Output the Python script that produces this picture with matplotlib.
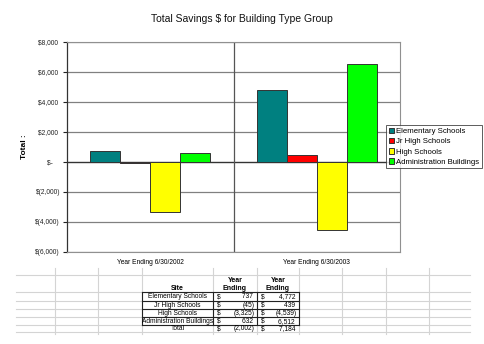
import matplotlib
matplotlib.use("Agg")
import matplotlib.pyplot as plt
import numpy as np
from matplotlib.ticker import FuncFormatter

plt.rcParams['font.family'] = ['Liberation Sans', 'DejaVu Sans']

# data
years = ["Year Ending 6/30/2002", "Year Ending 6/30/2003"]
sites = ["Elementary Schools", "Jr High Schools", "High Schools", "Administration Buildings"]
savings_2002 = [737, -45, -3325, 632]
savings_2003 = [4772, 439, -4539, 6512]
totals = [-2002, 7184]
colors = ["#008080", "#FF0000", "#FFFF00", "#00FF00"]

W, H = 485, 344
fig = plt.figure(figsize=(W / 100, H / 100), dpi=100)
fig.patch.set_facecolor("white")


def acct(v):
    if v == 0:
        return "$-    "
    if v < 0:
        return f"$({abs(v):,.0f})"
    return f"${v:,.0f} "


# chart axes (pixel box 67..400 x 42..252)
ax = fig.add_axes([67 / W, 1 - 252 / H, (400 - 67) / W, (252 - 42) / H])
x = np.arange(len(years))
width = 0.18
for i, site in enumerate(sites):
    vals = [savings_2002[i], savings_2003[i]]
    ax.bar(x + (i - 1.5) * width, vals, width, color=colors[i],
           edgecolor="#333333", linewidth=0.7, label=site, zorder=3)

ax.set_xlim(-0.5, 1.5)
ax.set_ylim(-6000, 8000)
ax.set_yticks(np.arange(-6000, 8001, 2000))
ax.yaxis.set_major_formatter(FuncFormatter(lambda v, p: acct(v)))
ax.tick_params(axis="y", labelsize=4.8, length=3, width=0.8, pad=2, colors="#222222")
ax.set_xticks(x)
ax.set_xticklabels(years, fontsize=4.8)
ax.tick_params(axis="x", length=0, pad=5)
ax.grid(axis="y", color="#808080", linewidth=0.9, zorder=0)
ax.axhline(0, color="#333333", linewidth=0.9, zorder=2)
ax.axvline(0.5, color="#555555", linewidth=0.9, zorder=2)
for s in ["top", "right", "bottom"]:
    ax.spines[s].set_color("#909090")
    ax.spines[s].set_linewidth(0.8)
ax.spines["left"].set_color("#333333")
ax.spines["left"].set_linewidth(0.9)
ax.set_ylabel("Total :", fontsize=6, fontweight="bold", labelpad=5)

fig.text(242 / W, 1 - 19 / H, "Total Savings $ for Building Type Group",
         ha="center", va="center", fontsize=7.5, color="#111111")

leg = ax.legend(loc="upper left", bbox_to_anchor=(386 / W, 1 - 125 / H),
                bbox_transform=fig.transFigure, fontsize=5.6, frameon=True,
                fancybox=False, edgecolor="#333333", handlelength=0.7,
                handleheight=0.7, handletextpad=0.3, borderpad=0.35,
                labelspacing=0.35, borderaxespad=0)
leg.get_frame().set_linewidth(0.7)

# spreadsheet overlay in pixel coordinates
ov = fig.add_axes([0, 0, 1, 1], zorder=-1)
ov.set_xlim(0, W)
ov.set_ylim(H, 0)
ov.axis("off")

grid_y = [275, 292, 300.5, 309, 317, 325, 332]
grid_x = [55, 98, 142, 213, 257, 299, 342, 386, 429]
for gy in grid_y:
    ov.plot([16, 470], [gy, gy], color="#d4d4d4", linewidth=0.8)
for gx in grid_x:
    ov.plot([gx, gx], [268, 334], color="#d4d4d4", linewidth=0.8)

# table borders
tb = fig.add_axes([0, 0, 1, 1])
tb.set_xlim(0, W)
tb.set_ylim(H, 0)
tb.axis("off")
rows_y = [292, 300.5, 309, 317, 325]
for ry in rows_y:
    tb.plot([142, 299], [ry, ry], color="#222222", linewidth=0.8)
for cx in [142, 213, 257, 299]:
    tb.plot([cx, cx], [292, 325], color="#222222", linewidth=0.8)

fs = 4.8
tb.text(177, 288, "Site", ha="center", va="center", fontsize=5, fontweight="bold")
for cx in [235, 278]:
    tb.text(cx, 280, "Year", ha="center", va="center", fontsize=5, fontweight="bold")
    tb.text(cx, 288, "Ending", ha="center", va="center", fontsize=5, fontweight="bold")

col_vals = [savings_2002, savings_2003]
col_left = [213, 257]
col_right = [257, 299]


def num_txt(v):
    return f"({abs(v):,.0f})" if v < 0 else f"{v:,.0f} "


for r, site in enumerate(sites):
    cy = (rows_y[r] + rows_y[r + 1]) / 2 + 0.3
    tb.text(177.5, cy, site, ha="center", va="center", fontsize=fs)
    for c in range(2):
        tb.text(col_left[c] + 4, cy, "$", ha="left", va="center", fontsize=fs)
        tb.text(col_right[c] - 2, cy, num_txt(col_vals[c][r]), ha="right",
                va="center", fontsize=fs)

cy = 329
tb.text(177.5, cy, "Total", ha="center", va="center", fontsize=fs)
for c in range(2):
    tb.text(col_left[c] + 4, cy, "$", ha="left", va="center", fontsize=fs)
    tb.text(col_right[c] - 2, cy, num_txt(totals[c]), ha="right", va="center", fontsize=fs)

fig.savefig("out.png", dpi=100, facecolor="white")
